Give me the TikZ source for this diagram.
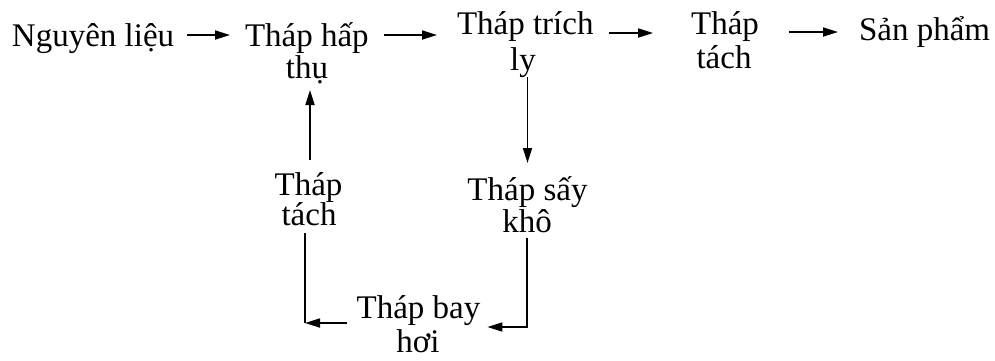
\documentclass[tikz,border=0pt]{standalone}
\usepackage{fontspec}
\setmainfont{Liberation Serif}
\usetikzlibrary{arrows.meta,calc}
\begin{document}
\begin{tikzpicture}[x=1pt,y=-1pt,
  lbl/.style={inner sep=0pt,outer sep=0pt,anchor=base,font=\fontsize{33}{34}\selectfont},
  arr/.style={line width=1.7pt,-{Triangle[length=15pt,width=9pt]}},
  ln/.style={line width=1.7pt}]
\useasboundingbox (0,0) rectangle (995,360);
% top row
\node[lbl,anchor=base west] (nl) at (12,46) {Nguyên liệu};
\node[lbl,anchor=base west] (hap1) at (245,46) {Tháp hấp};
\node[lbl] (hap2) at (307,78) {thụ};
\node[lbl,anchor=base west] (tr1) at (457,34) {Tháp trích};
\node[lbl] (tr2) at (523,70) {ly};
\node[lbl] (ta1) at (725,34) {Tháp};
\node[lbl] (ta2) at (724,68) {tách};
\node[lbl,anchor=base west] (sp) at (859,40) {Sản phẩm};
% lower part
\node[lbl] (ss1) at (527.5,200) {Tháp sấy};
\node[lbl] (ss2) at (527,232) {khô};
\node[lbl] (tk1) at (308.5,195) {Tháp};
\node[lbl] (tk2) at (309,225) {tách};
\node[lbl] (bay1) at (418.5,318) {Tháp bay};
\node[lbl] (bay2) at (418,352) {hơi};
% top arrows
\draw[arr] ($(nl.base east)+(13,-11)$) -- ($(hap1.base west)+(-15,-11)$);
\draw[arr] ($(hap1.base east)+(15,-11)$) -- ($(tr1.base west)+(-20,1)$);
\draw[arr] ($(tr1.base east)+(15,-1)$) -- ($(ta1.base west)+(-38,-1)$);
\draw[arr] ($(ta1.base east)+(30,-2)$) -- ($(sp.base west)+(-21,-8)$);
% down arrow from Thap trich ly to Thap say kho
\coordinate (d1) at ($(tr2.base)+(4,7)$);
\coordinate (d2) at ($(ss1.base)+(0,-37)$);
\draw[arr] (d1 -| d2) -- (d2);
% Thap say kho -> Thap bay hoi
\coordinate (r1) at ($(ss2.base)+(0,6)$);
\coordinate (r2) at ($(bay1.base east)+(7,9)$);
\draw[arr] (r1) |- (r2);
% Thap bay hoi -> Thap tach
\coordinate (l1) at ($(bay1.base west)+(-10,5)$);
\coordinate (l2) at ($(tk2.base)+(-4,8)$);
\draw[arr] (l1) -- (l1 -| l2);
\draw[ln] (l2) -- (l1 -| l2);
% Thap tach -> Thap hap thu
\coordinate (u1) at ($(tk1.base)+(1.5,-35)$);
\coordinate (u2) at ($(hap2.base)+(0,12)$);
\draw[arr] (u1) -- (u1 |- u2);
\end{tikzpicture}
\end{document}
